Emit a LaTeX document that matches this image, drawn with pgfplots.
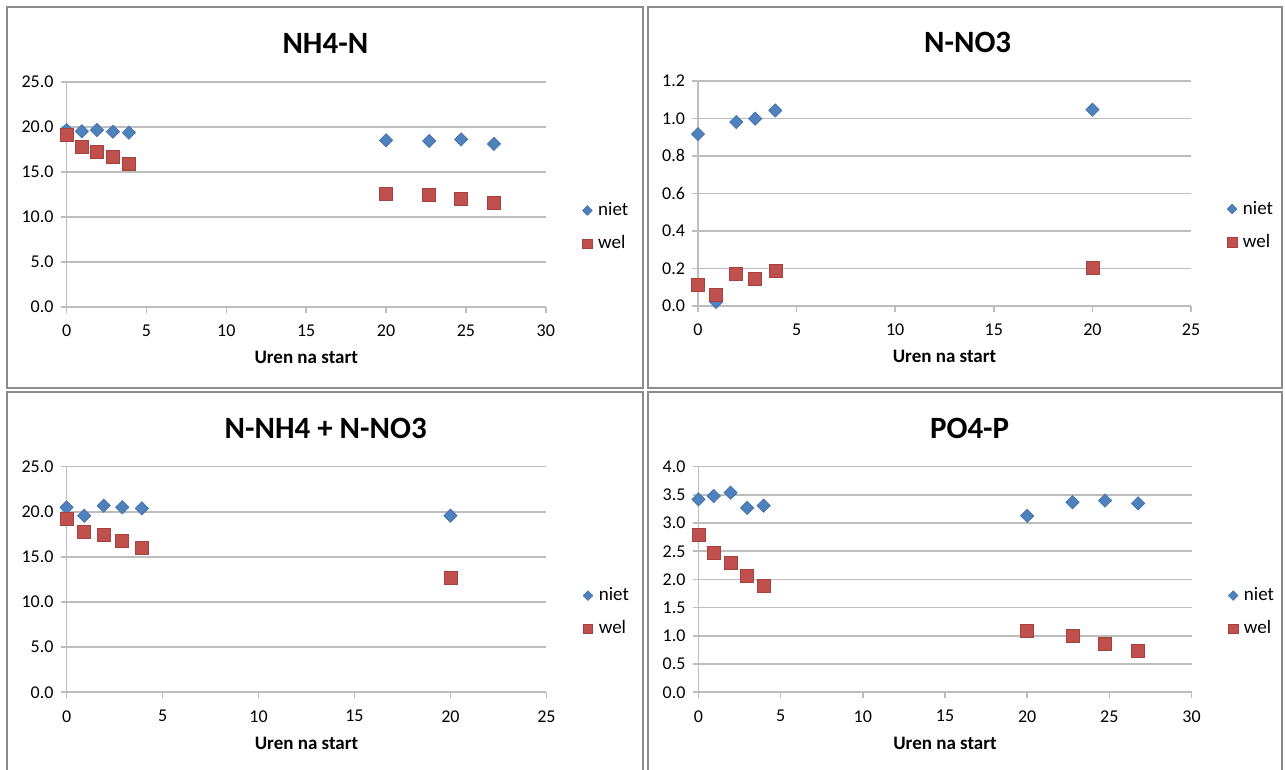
\documentclass[border=0pt]{standalone}
\usepackage{fontspec}
\setmainfont{Carlito}
\usepackage{pgfplots}
\pgfplotsset{compat=1.18}
\definecolor{niet}{HTML}{4F81BD}
\definecolor{nietd}{HTML}{3F6FAA}
\definecolor{wel}{HTML}{C0504D}
\definecolor{weld}{HTML}{A8403D}
\definecolor{gridc}{HTML}{BDBDBD}
\definecolor{framec}{HTML}{8C8C8C}
\pgfplotsset{
  panel/.style={
    scale only axis, anchor=south west, clip=false,
    xmin=0, ymin=0,
    axis lines*=left,
    axis line style={gridc, line width=0.8pt},
    ymajorgrids, grid style={gridc, line width=0.8pt},
    tick align=outside, major tick length=3pt,
    tick style={gridc, line width=0.8pt},
    /pgf/number format/assume math mode=true,
    tick label style={font=\fontsize{9}{10}\selectfont, black},
    xticklabel style={yshift=-2.5pt},
    title style={font=\bfseries\fontsize{15.5}{17}\selectfont, anchor=base, yshift=8pt},
    xlabel={Uren na start},
    xlabel style={font=\bfseries\fontsize{9.5}{11}\selectfont, at={(0.5,0)}, anchor=base, yshift=-28.5pt},
    legend style={draw=none, fill=none, inner sep=0pt, anchor=west,
      font=\fontsize{9.5}{11}\selectfont, row sep=4.5pt,
      /tikz/every odd column/.style={column sep=1pt}},
    legend cell align=left,
    legend image code/.code={\draw[#1, /tikz/every mark/.append style={scale=0.72}] plot coordinates {(3pt,0pt)};},
  },
  ydec/.style={yticklabel style={/pgf/number format/.cd, fixed, fixed zerofill, precision=1}},
  nietm/.style={only marks, mark=square*, mark size=2.35pt, mark options={rotate=45, fill=niet, draw=nietd, line width=0.3pt}},
  welm/.style={only marks, mark=square*, mark size=3.25pt, mark options={fill=wel, draw=weld, line width=0.3pt}},
}
\begin{document}
\begin{tikzpicture}
\useasboundingbox (0,0) rectangle (642.5pt,385pt);
\fill[white] (0,0) rectangle (642.5pt,385pt);
% frames
\draw[framec, line width=1pt] (3.7pt,191pt) rectangle (321.5pt,381.5pt);
\draw[framec, line width=1pt] (324.2pt,191pt) rectangle (641pt,381.5pt);
\draw[framec, line width=1pt] (3.7pt,-2pt) rectangle (321.5pt,189pt);
\draw[framec, line width=1pt] (324.2pt,-2pt) rectangle (641pt,189pt);

% Panel 1: NH4-N
\begin{axis}[panel, ydec, at={(33.3pt,231.5pt)}, width=239.6pt, height=112.6pt,
  xmax=30, ymax=25, xtick={0,5,...,30}, ytick={0,5,...,25},
  title={NH4-N}, title style={at={(0.54,1)}},
  legend style={at={(1.076,0.355)}}]
\addplot+[nietm] coordinates {(0,19.65) (0.95,19.5) (1.9,19.65) (2.9,19.46) (3.9,19.35) (20,18.5) (22.7,18.43) (24.7,18.6) (26.75,18.1)};
\addplot+[welm] coordinates {(0,19.13) (0.95,17.8) (1.9,17.25) (2.9,16.7) (3.9,15.85) (20,12.55) (22.7,12.4) (24.7,11.96) (26.75,11.56)};
\legend{niet, wel}
\end{axis}

% Panel 2: N-NO3
\begin{axis}[panel, ydec, at={(349pt,232pt)}, width=246.5pt, height=112.6pt,
  xmax=25, ymax=1.2, xtick={0,5,...,25}, ytick={0,0.2,...,1.2},
  title={N-NO3}, title style={at={(0.547,1)}},
  legend style={at={(1.073,0.357)}}]
\addplot+[nietm] coordinates {(0,0.916) (0.92,0.022) (1.94,0.98) (2.9,0.998) (3.92,1.042) (20,1.046)};
\addplot+[welm] coordinates {(0,0.115) (0.92,0.057) (1.94,0.174) (2.9,0.146) (3.92,0.19) (20,0.204)};
\legend{niet, wel}
\end{axis}

% Panel 3: N-NH4 + N-NO3
\begin{axis}[panel, ydec, at={(33.3pt,38.85pt)}, width=239.9pt, height=112.8pt,
  xmax=25, ymax=25, xtick={0,5,...,25}, ytick={0,5,...,25},
  title={N-NH4 + N-NO3}, title style={at={(0.54,1)}},
  legend style={at={(1.076,0.355)}}]
\addplot+[nietm] coordinates {(0,20.5) (0.92,19.57) (1.93,20.68) (2.9,20.5) (3.92,20.38) (20,19.57)};
\addplot+[welm] coordinates {(0,19.2) (0.92,17.8) (1.93,17.43) (2.9,16.77) (3.92,16.03) (20,12.74)};
\legend{niet, wel}
\end{axis}

% Panel 4: PO4-P
\begin{axis}[panel, ydec, at={(349.25pt,38.85pt)}, width=246.5pt, height=112.8pt,
  xmax=30, ymax=4, xtick={0,5,...,30}, ytick={0,0.5,...,4},
  title={PO4-P}, title style={at={(0.55,1)}},
  legend style={at={(1.074,0.355)}}]
\addplot+[nietm] coordinates {(0,3.42) (0.93,3.48) (1.95,3.54) (2.96,3.27) (3.96,3.31) (20,3.13) (22.76,3.37) (24.74,3.40) (26.75,3.35)};
\addplot+[welm] coordinates {(0,2.79) (0.93,2.48) (1.95,2.29) (2.96,2.07) (3.96,1.88) (20,1.09) (22.76,1.00) (24.74,0.86) (26.75,0.73)};
\legend{niet, wel}
\end{axis}
\end{tikzpicture}
\end{document}
